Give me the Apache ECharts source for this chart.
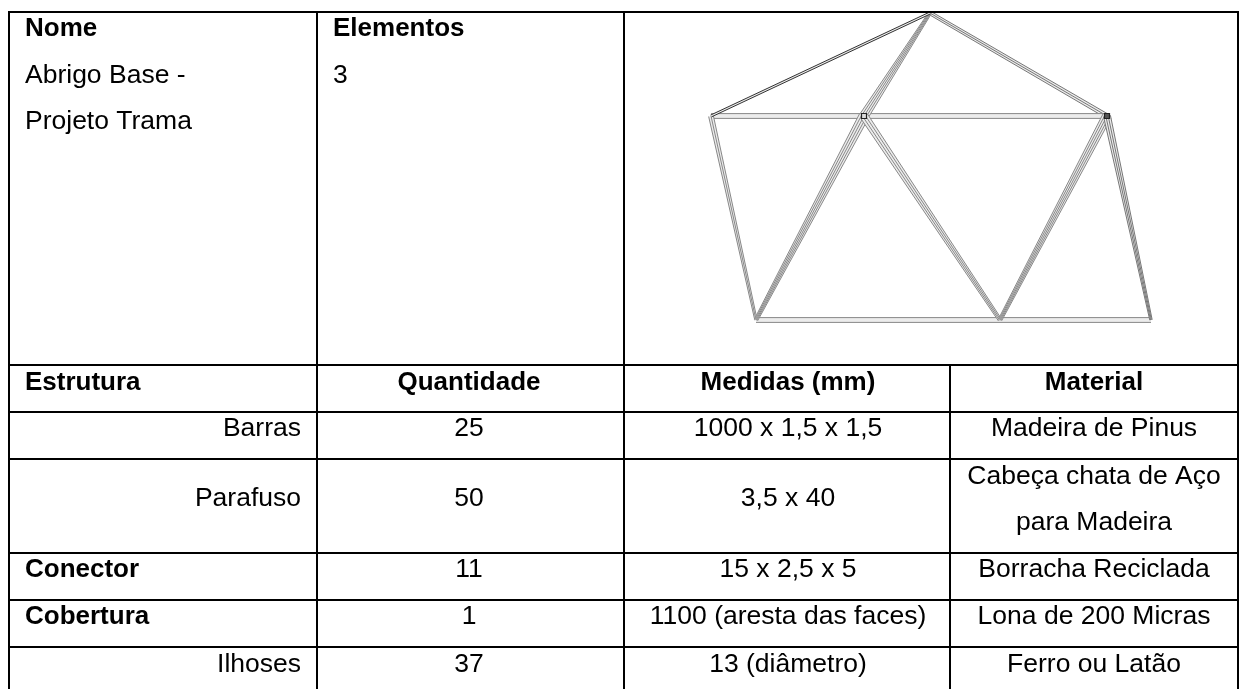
<!DOCTYPE html>
<html>
<head>
<meta charset="utf-8">
<style>
  html, body { margin: 0; padding: 0; background: #fff; }
  #chart { width: 1239px; height: 689px; }
</style>
<script src="https://cdn.jsdelivr.net/npm/echarts@6/dist/echarts.min.js"></script>
</head>
<body>
<div id="chart"></div>
<script>
// dados da tabela
var headNome = ['Nome', 'Abrigo Base -', 'Projeto Trama'];
var headElementos = ['Elementos', '3'];
var colunas = ['Estrutura', 'Quantidade', 'Medidas (mm)', 'Material'];
var estrutura = ['Barras', 'Parafuso', 'Conector', 'Cobertura', 'Ilhoses'];
var quantidade = ['25', '50', '11', '1', '37'];
var medidas = ['1000 x 1,5 x 1,5', '3,5 x 40', '15 x 2,5 x 5', '1100 (aresta das faces)', '13 (diâmetro)'];
var material = ['Madeira de Pinus', ['Cabeça chata de Aço', 'para Madeira'], 'Borracha Reciclada', 'Lona de 200 Micras', 'Ferro ou Latão'];
var estruturaBold = [false, false, true, true, false];

// nos e barras do desenho
var nos = {
  A: [711, 116], T: [930, 13], C: [864, 116], R: [1107, 116],
  BL: [756, 320], BM: [1000, 320], BR: [1151, 320]
};
var barras = [
  ['T', 'R'], ['A', 'R'], ['BL', 'BR'], ['A', 'BL'], ['T', 'C'],
  ['BL', 'C'], ['C', 'BM'], ['BM', 'R'], ['R', 'BR'], ['A', 'T']
];

// layout (px)
var colX = [9, 317, 624, 950, 1238];
var rowY = [12, 365, 412, 459, 553, 600, 647, 689];
var font = '26.5px "Liberation Sans", Arial, sans-serif';
var fontBold = 'bold 26px "Liberation Sans", Arial, sans-serif';
var colCenter = [0, 469, 788, 1094];
var rowText = [429, 499, 570, 617, 665];
// largura de cada barra: [inicio, fim, numero de fios, cor do fio]
var barSpread = {
  'A-T': [1, 1, 2, '#333'], 'T-R': [1.8, 2.2, 3, '#777'], 'A-R': [2.4, 2.4, 2, '#888'], 'BL-BR': [2.4, 2.4, 2, '#888'],
  'A-BL': [2.4, 1.2, 3, '#888'], 'T-C': [1.5, 4.5, 5, '#888'], 'BL-C': [1.8, 5, 5, '#888'], 'C-BM': [4, 1.8, 4, '#888'],
  'BM-R': [1.8, 4.5, 5, '#888'], 'R-BR': [3.5, 1.2, 4, '#777']
};

// linhas da tabela
var linhas = [];
rowY.slice(0, 7).forEach(function (y) {
  linhas.push([colX[0], y, colX[4], y]);
});
linhas.push([colX[0], rowY[0], colX[0], rowY[7]]);
linhas.push([colX[1], rowY[0], colX[1], rowY[7]]);
linhas.push([colX[2], rowY[0], colX[2], rowY[7]]);
linhas.push([colX[3], rowY[1], colX[3], rowY[7]]);
linhas.push([colX[4], rowY[0], colX[4], rowY[7]]);

// textos: [x, y, texto, alinhamento, negrito]
var textos = [];
headNome.forEach(function (t, i) {
  textos.push([25, [29, 76, 122][i], t, 'left', i === 0 ? 1 : 0]);
});
headElementos.forEach(function (t, i) {
  textos.push([333, [29, 76][i], t, 'left', i === 0 ? 1 : 0]);
});
colunas.forEach(function (t, i) {
  textos.push(i === 0 ? [25, 383, t, 'left', 1] : [colCenter[i], 383, t, 'center', 1]);
});
estrutura.forEach(function (t, i) {
  if (estruturaBold[i]) textos.push([25, rowText[i], t, 'left', 1]);
  else textos.push([301, rowText[i], t, 'right', 0]);
  textos.push([colCenter[1], rowText[i], quantidade[i], 'center', 0]);
  textos.push([colCenter[2], rowText[i], medidas[i], 'center', 0]);
  if (Array.isArray(material[i])) {
    textos.push([colCenter[3], 477, material[i][0], 'center', 0]);
    textos.push([colCenter[3], 523, material[i][1], 'center', 0]);
  } else {
    textos.push([colCenter[3], rowText[i], material[i], 'center', 0]);
  }
});

var myChart = echarts.init(document.getElementById('chart'));

var option = {
  animation: false,
  backgroundColor: '#fff',
  grid: { left: 0, right: 0, top: 0, bottom: 0 },
  xAxis: { type: 'value', min: 0, max: 1239, show: false },
  yAxis: { type: 'value', min: 0, max: 689, inverse: true, show: false },
  series: [
    {
      // barras do desenho: faixa clara + fios paralelos
      type: 'custom',
      clip: false,
      silent: true,
      data: barras.map(function (b) {
        var s = barSpread[b[0] + '-' + b[1]];
        return nos[b[0]].concat(nos[b[1]]).concat(s.slice(0, 3));
      }),
      renderItem: function (params, api) {
        var p1 = api.coord([api.value(0), api.value(1)]);
        var p2 = api.coord([api.value(2), api.value(3)]);
        var s1 = api.value(4), s2 = api.value(5), n = api.value(6);
        var b = barras[params.dataIndex];
        var cor = barSpread[b[0] + '-' + b[1]][3];
        var dx = p2[0] - p1[0], dy = p2[1] - p1[1];
        var len = Math.sqrt(dx * dx + dy * dy);
        var nx = -dy / len, ny = dx / len;
        var children = [{
          type: 'polygon',
          shape: {
            points: [
              [p1[0] + nx * s1, p1[1] + ny * s1],
              [p2[0] + nx * s2, p2[1] + ny * s2],
              [p2[0] - nx * s2, p2[1] - ny * s2],
              [p1[0] - nx * s1, p1[1] - ny * s1]
            ]
          },
          style: { fill: '#ececec' }
        }];
        for (var i = 0; i < n; i++) {
          var k = (i / (n - 1)) * 2 - 1;
          children.push({
            type: 'line',
            shape: {
              x1: p1[0] + nx * s1 * k, y1: p1[1] + ny * s1 * k,
              x2: p2[0] + nx * s2 * k, y2: p2[1] + ny * s2 * k
            },
            style: { stroke: cor, lineWidth: 1 }
          });
        }
        return { type: 'group', children: children };
      }
    },
    {
      // nos escuros
      type: 'custom',
      clip: false,
      silent: true,
      data: [nos.C, nos.R],
      renderItem: function (params, api) {
        var p = api.coord([api.value(0), api.value(1)]);
        return {
          type: 'rect',
          shape: { x: p[0] - 2.5, y: p[1] - 2.5, width: 5, height: 5 },
          style: { fill: params.dataIndex === 0 ? '#ddd' : '#555', stroke: '#222', lineWidth: 1.2 }
        };
      }
    },
    {
      type: 'custom',
      clip: false,
      silent: true,
      data: linhas,
      renderItem: function (params, api) {
        var p1 = api.coord([api.value(0), api.value(1)]);
        var p2 = api.coord([api.value(2), api.value(3)]);
        return {
          type: 'line',
          shape: { x1: p1[0], y1: p1[1], x2: p2[0], y2: p2[1] },
          style: { stroke: '#000', lineWidth: 2, lineCap: 'square' }
        };
      }
    },
    {
      type: 'custom',
      clip: false,
      silent: true,
      encode: { x: 0, y: 1 },
      data: textos,
      renderItem: function (params, api) {
        var d = textos[params.dataIndex];
        var p = api.coord([d[0], d[1]]);
        return {
          type: 'text',
          style: {
            x: p[0], y: p[1], text: d[2],
            font: d[4] ? fontBold : font,
            fill: '#000', align: d[3], verticalAlign: 'middle'
          }
        };
      }
    }
  ]
};

myChart.setOption(option);

window.addEventListener('resize', function () {
  myChart.resize();
});
</script>
</body>
</html>
